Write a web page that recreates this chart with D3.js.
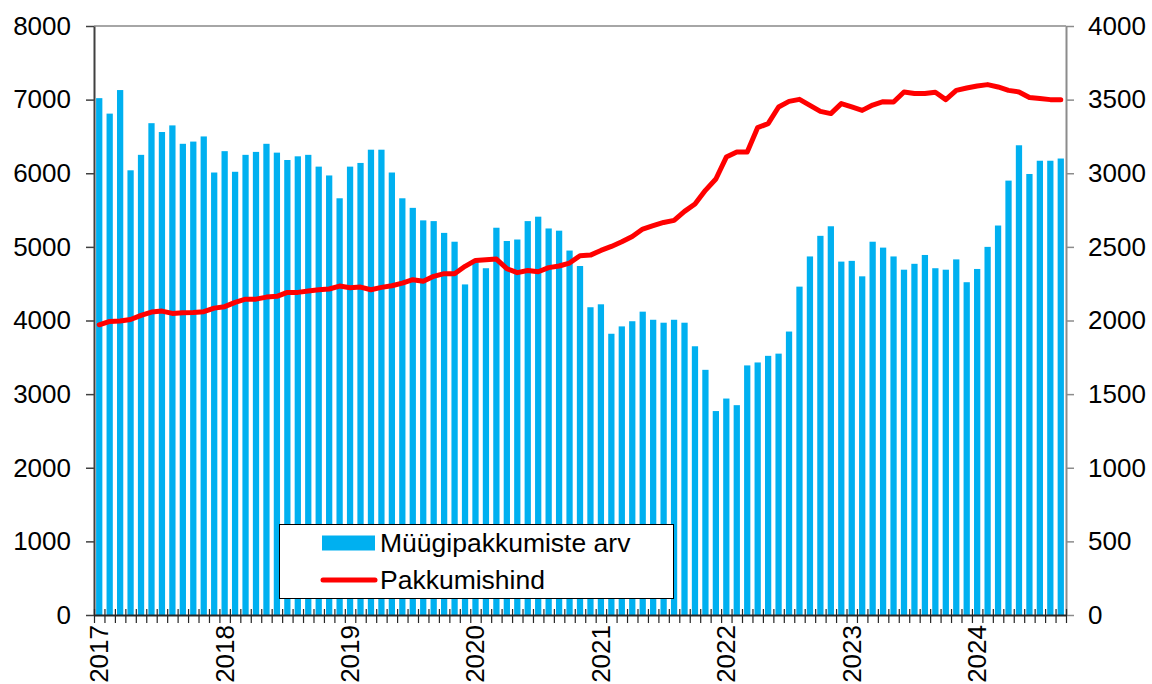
<!DOCTYPE html>
<html>
<head>
<meta charset="utf-8">
<script src="https://cdn.jsdelivr.net/npm/d3@7"></script>
<style>
  body { margin: 0; background: #fff; }
  text { font-family: "Liberation Sans", Arial, sans-serif; fill: #000; }
</style>
</head>
<body>
<div class="canvas"></div>
<script>
// data: monthly, Jan 2017 .. Sep 2024
var offers = [
  7020, 6810, 7130, 6040, 6250, 6680, 6560, 6650, 6400, 6430, 6500, 6010,
  6300, 6020, 6250, 6290, 6400, 6280, 6180, 6230, 6250, 6090, 5970, 5660,
  6090, 6140, 6320, 6320, 6010, 5660, 5530, 5360, 5350, 5190, 5070, 4490,
  4790, 4710, 5260, 5080, 5100, 5350, 5410, 5250, 5220, 4950, 4740, 4180,
  4220, 3820, 3920, 3990, 4120, 4010, 3970, 4010, 3970, 3650, 3330, 2770,
  2940, 2850, 3390, 3430, 3520, 3550, 3850, 4460, 4870, 5150, 5280, 4800,
  4810, 4600, 5070, 4990, 4870, 4690, 4770, 4890, 4710, 4690, 4830, 4520,
  4700, 5000, 5290, 5900, 6380, 5990, 6170, 6170, 6200
]
var price = [
  1971, 1994, 1996, 2007, 2035, 2057, 2064, 2048, 2053, 2055, 2060, 2084,
  2094, 2123, 2145, 2145, 2159, 2164, 2191, 2191, 2200, 2209, 2214, 2234,
  2223, 2227, 2209, 2225, 2236, 2254, 2277, 2266, 2300, 2318, 2318, 2368,
  2408, 2413, 2417, 2352, 2325, 2340, 2331, 2359, 2370, 2390, 2440, 2444,
  2476, 2503, 2535, 2571, 2621, 2644, 2666, 2680, 2741, 2791, 2884, 2961,
  3110, 3144, 3144, 3310, 3337, 3450, 3488, 3502, 3461, 3420, 3405, 3473,
  3450, 3427, 3463, 3486, 3484, 3552, 3541, 3541, 3550, 3500, 3563, 3579,
  3593, 3602, 3586, 3563, 3552, 3514, 3507, 3500, 3500
]
var years = ['2017', '2018', '2019', '2020', '2021', '2022', '2023', '2024']
var leftTicks = [0, 1000, 2000, 3000, 4000, 5000, 6000, 7000, 8000]
var rightTicks = [0, 500, 1000, 1500, 2000, 2500, 3000, 3500, 4000]
var seriesNames = ['Müügipakkumiste arv', 'Pakkumishind']

var months = offers.map(function(d, i) { return i })

var W = 1152, H = 684
var plot = {left: 94, right: 1066, top: 26, bottom: 615}

var svg = d3.select(".canvas").append("svg").attr("width", W).attr("height", H)

var x = d3.scaleBand().domain(months).range([plot.left, plot.right]).paddingInner(0.4).paddingOuter(0.2)
// linear index scale for the month boundary ticks
var xi = d3.scaleLinear().domain([0, months.length]).range([plot.left, plot.right])
var yL = d3.scaleLinear().domain([0, 8000]).range([plot.bottom, plot.top])
var yR = d3.scaleLinear().domain([0, 4000]).range([plot.bottom, plot.top])

// bars
svg.append('g').selectAll('rect')
    .data(offers)
    .enter().append('rect')
    .attr('x', function(d, i) { return x(i) })
    .attr('y', function(d) { return yL(d) })
    .attr('width', x.bandwidth())
    .attr('height', function(d) { return yL(0) - yL(d) })
    .attr('fill', '#00B0F0')

// price line
var line = d3.line()
    .x(function(d, i) { return x(i) + x.bandwidth() / 2 })
    .y(function(d) { return yR(d) })

svg.append('path')
    .datum(price)
    .attr('d', line)
    .attr('fill', 'none')
    .attr('stroke', '#FF0000')
    .attr('stroke-width', 5)
    .attr('stroke-linejoin', 'round')
    .attr('stroke-linecap', 'round')

// top border
svg.append('line')
    .attr('x1', plot.left).attr('x2', plot.right)
    .attr('y1', plot.top).attr('y2', plot.top)
    .attr('stroke', '#a6a6a6').attr('stroke-width', 2)

// left axis
var gL = svg.append('g')
    .attr('transform', 'translate(' + plot.left + ',0)')
    .call(d3.axisLeft(yL).tickValues(leftTicks).tickFormat(d3.format('d')).tickSize(8).tickPadding(15).tickSizeOuter(0))
gL.select('.domain').attr('stroke', '#404040').attr('stroke-width', 2)
gL.selectAll('.tick line').attr('stroke', '#404040').attr('stroke-width', 1.5)
gL.selectAll('text').style('font-size', '26px').attr('fill', '#000')

// right axis
var gR = svg.append('g')
    .attr('transform', 'translate(' + plot.right + ',0)')
    .call(d3.axisRight(yR).tickValues(rightTicks).tickFormat(d3.format('d')).tickSize(8).tickPadding(14).tickSizeOuter(0))
gR.select('.domain').attr('stroke', '#8c8c8c').attr('stroke-width', 2)
gR.selectAll('.tick line').attr('stroke', '#8c8c8c').attr('stroke-width', 1.5)
gR.selectAll('text').style('font-size', '26px').attr('fill', '#000')

// bottom axis: a tick on every month boundary
var gB = svg.append('g')
    .attr('transform', 'translate(0,' + plot.bottom + ')')
    .call(d3.axisBottom(xi).tickValues(d3.range(months.length + 1)).tickSize(8).tickFormat('').tickSizeOuter(0))
gB.select('.domain').attr('stroke', '#262626').attr('stroke-width', 2)
gB.selectAll('.tick line').attr('stroke', '#262626').attr('stroke-width', 1.2).attr('y1', -6)

// year labels, rotated, under January of each year
svg.append('g').selectAll('text')
    .data(years)
    .enter().append('text')
    .attr('transform', function(d, i) {
        var cx = x(i * 12) + x.bandwidth() / 2
        return 'translate(' + (cx + 9) + ',' + (plot.bottom + 10) + ') rotate(-90)'
    })
    .attr('text-anchor', 'end')
    .style('font-size', '26px')
    .text(function(d) { return d })

// legend
var lg = svg.append('g')
lg.append('rect')
    .attr('x', 279.5).attr('y', 524.5)
    .attr('width', 394).attr('height', 74)
    .attr('fill', '#fff').attr('stroke', '#000').attr('stroke-width', 1)
lg.append('rect')
    .attr('x', 322).attr('y', 535.5).attr('width', 53).attr('height', 15)
    .attr('fill', '#00B0F0')
lg.append('line')
    .attr('x1', 323).attr('x2', 375).attr('y1', 580).attr('y2', 580)
    .attr('stroke', '#FF0000').attr('stroke-width', 5).attr('stroke-linecap', 'round')
lg.append('text').attr('x', 380).attr('y', 552).style('font-size', '26.5px').text(seriesNames[0])
lg.append('text').attr('x', 380).attr('y', 589).style('font-size', '26.5px').text(seriesNames[1])
</script>
</body>
</html>
